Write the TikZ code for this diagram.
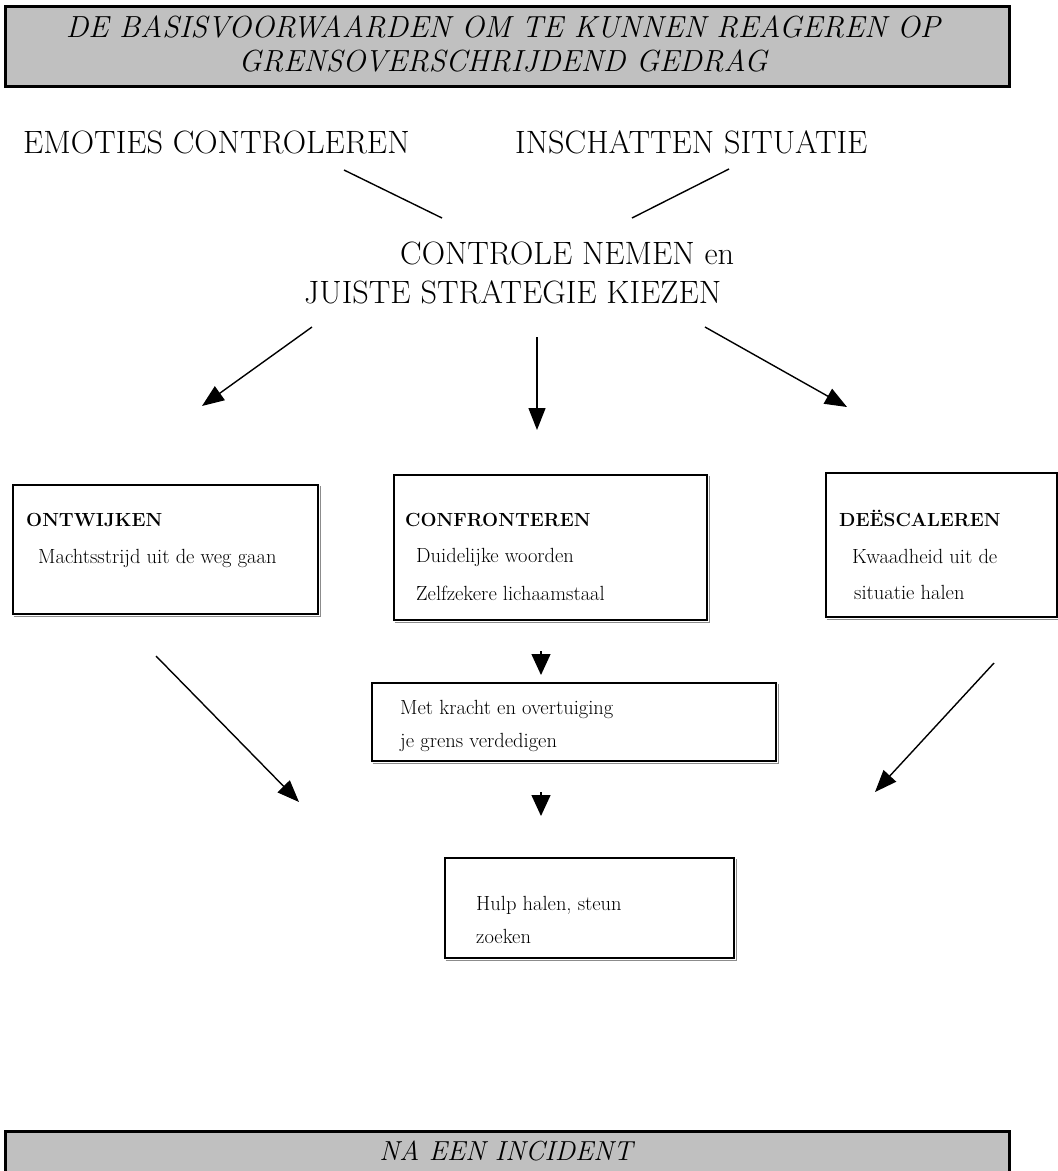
\documentclass[tikz,border=0pt]{standalone}
\usetikzlibrary{arrows.meta}
\definecolor{bandgray}{RGB}{192,192,192}
\begin{document}
\begin{tikzpicture}[x=1pt,y=-1pt,
  heading/.style={font=\fontsize{32.3}{38}\selectfont, inner sep=0pt, anchor=base west},
  titletext/.style={font=\fontsize{30.5}{36}\selectfont\itshape, inner sep=0pt, anchor=base},
  closetext/.style={font=\fontsize{27.5}{33}\selectfont\itshape, inner sep=0pt, anchor=base},
  boxhead/.style={font=\fontsize{19}{23}\selectfont\bfseries, inner sep=0pt, anchor=base west},
  boxtext/.style={font=\fontsize{20.5}{24}\selectfont, inner sep=0pt, anchor=base west},
  frame/.style={draw, line width=1.6pt, fill=white, anchor=north west, inner sep=0pt},
  shadowline/.style={draw=black!45, line width=1.2pt},
  band/.style={draw, line width=2.6pt, fill=bandgray, anchor=north west, inner sep=0pt},
  link/.style={line width=1.4pt},
  flow/.style={line width=1.4pt, -{Triangle[length=22pt,width=17pt]}},
  stub/.style={line width=1.4pt, -{Triangle[length=21pt,width=19pt]}},
]
\useasboundingbox (0,0) rectangle (1058,1171);
\clip (0,0) rectangle (1058,1171);

% title band
\node[band, minimum width=1004pt, minimum height=80pt] (title) at (4,5) {};
\node[titletext] (t1) at (503,37) {DE BASISVOORWAARDEN OM TE KUNNEN REAGEREN OP};
\node[titletext] (t2) at (503,71) {GRENSOVERSCHRIJDEND GEDRAG};

% two starting conditions
\node[heading] (emo) at (23,153) {EMOTIES CONTROLEREN};
\node[heading] (ins) at (515,153) {INSCHATTEN SITUATIE};
\coordinate (emoA) at (344,170);
\coordinate (emoB) at (442,218);
\coordinate (insA) at (729,169);
\coordinate (insB) at (632,218);
\draw[link] (emoA) -- (emoB);
\draw[link] (insA) -- (insB);

% central choice
\node[heading] (ctrl) at (400,264) {CONTROLE NEMEN en};
\node[heading] (strat) at (304,303) {JUISTE STRATEGIE KIEZEN};

\coordinate (sL) at (312,327);
\coordinate (eL) at (202,406);
\coordinate (sM) at (537,337);
\coordinate (eM) at (537,430);
\coordinate (sR) at (705,327);
\coordinate (eR) at (847,407);
\draw[flow] (sL) -- (eL);
\draw[flow] (sM) -- (eM);
\draw[flow] (sR) -- (eR);

% three strategies
\node[frame, minimum width=305pt, minimum height=129pt] (ontw) at (12,484) {};
\node[boxhead] (ontwH) at (26,526) {ONTWIJKEN};
\node[boxtext] (ontw1) at (38,563) {Machtsstrijd uit de weg gaan};

\node[frame, minimum width=313pt, minimum height=145pt] (conf) at (393,474) {};
\node[boxhead] (confH) at (405,526) {CONFRONTEREN};
\node[boxtext] (conf1) at (416,562) {Duidelijke woorden};
\node[boxtext] (conf2) at (416,600) {Zelfzekere lichaamstaal};

\node[frame, minimum width=231pt, minimum height=144pt] (dees) at (825,472) {};
\node[boxhead] (deesH) at (839,526) {DEËSCALEREN};
\node[boxtext] (dees1) at (852,563) {Kwaadheid uit de};
\node[boxtext] (dees2) at (854,599) {situatie halen};

% follow-up steps
\coordinate (d1a) at (541,651);
\coordinate (d1b) at (541,675);
\draw[stub] (d1a) -- (d1b);

\node[frame, minimum width=404pt, minimum height=78pt] (kracht) at (371,682) {};
\node[boxtext] (kr1) at (400,714) {Met kracht en overtuiging};
\node[boxtext] (kr2) at (400,747) {je grens verdedigen};

\coordinate (d2a) at (541,792);
\coordinate (d2b) at (541,816);
\draw[stub] (d2a) -- (d2b);

\node[frame, minimum width=289pt, minimum height=100pt] (hulp) at (444,857) {};
\node[boxtext] (h1) at (476,910) {Hulp halen, steun};
\node[boxtext] (h2) at (476,943) {zoeken};

% soft shadow along the lower and right edges of the boxes
\foreach \b in {ontw,conf,dees,kracht,hulp}
  \draw[shadowline] ([shift={(1.5pt,-1.6pt)}]\b.south west)
    -- ([shift={(1.6pt,-1.6pt)}]\b.south east)
    -- ([shift={(1.6pt,-1.5pt)}]\b.north east);

\coordinate (lA) at (156,656);
\coordinate (lB) at (299,802);
\coordinate (rA) at (994,663);
\coordinate (rB) at (875,792);
\draw[flow] (lA) -- (lB);
\draw[flow] (rA) -- (rB);

% closing band
\node[band, minimum width=1004pt, minimum height=80pt] (after) at (4,1130) {};
\node[closetext] (na) at (506,1160) {NA EEN INCIDENT};
\end{tikzpicture}
\end{document}
